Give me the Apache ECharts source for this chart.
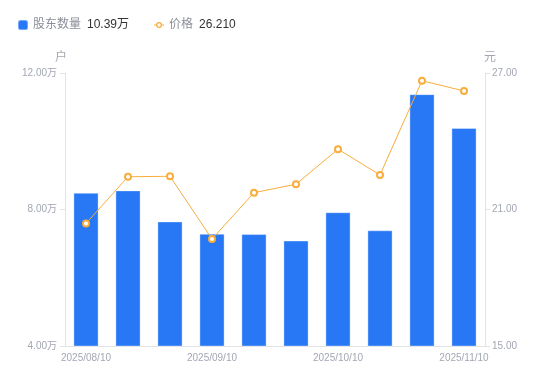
<!DOCTYPE html>
<html>
<head>
<meta charset="utf-8">
<script src="https://cdn.jsdelivr.net/npm/echarts@6/dist/echarts.min.js"></script>
<style>
  html, body { margin: 0; padding: 0; background: #fff; }
  #chart { width: 550px; height: 381px; }
</style>
</head>
<body>
<div id="chart"></div>
<script>
const dates = ['2025/08/10', '2025/08/20', '2025/08/31', '2025/09/10', '2025/09/20',
  '2025/09/30', '2025/10/10', '2025/10/20', '2025/10/31', '2025/11/10'];
// 股东数量, unit 万户
const holders = [8.49, 8.56, 7.65, 7.29, 7.28, 7.09, 7.92, 7.39, 11.38, 10.39];
// 价格, unit 元
const prices = [20.39, 22.44, 22.46, 19.70, 21.74, 22.11, 23.65, 22.52, 26.66, 26.21];
const holderTicks = [4, 12, 4];   // min, max, interval
const priceTicks = [15, 27, 6];

const font = 'Arial, "Liberation Sans", "Noto Sans CJK SC", sans-serif';
const grey = '#a3a7b3';
const blue = '#2878f5';
const orange = '#f8ad3c';
// small line with a ring in the middle, like the line legend icon
const lineIcon = 'path://M0,4.5H2.2V5.5H0Z M7.8,4.5H10V5.5H7.8Z M5,2A3,3 0 1,1 5,8A3,3 0 1,1 5,2Z M5,3.3A1.7,1.7 0 1,0 5,6.7A1.7,1.7 0 1,0 5,3.3Z';

const chart = echarts.init(document.getElementById('chart'));
const lastLabel = {
  '股东数量': holders[holders.length - 1].toFixed(2) + '万',
  '价格': prices[prices.length - 1].toFixed(3),
};

chart.setOption({
  animation: false,
  textStyle: { fontFamily: font },
  grid: { left: 65, right: 65, top: 73, bottom: 35 },
  legend: {
    left: 12,
    top: 14,
    itemWidth: 10,
    itemHeight: 10,
    itemGap: 25,
    formatter: (name) => `{n|${name}}{v|${lastLabel[name]}}`,
    textStyle: {
      rich: {
        n: { color: '#8a8e99', fontSize: 12, fontFamily: font },
        v: { color: '#333', fontSize: 12, fontFamily: font, padding: [0, 0, 0, 6] },
      },
    },
    data: [
      { name: '股东数量', icon: 'roundRect', itemStyle: { color: blue } },
      { name: '价格', icon: lineIcon, itemStyle: { color: orange } },
    ],
  },
  xAxis: {
    type: 'category',
    data: dates,
    axisLine: { lineStyle: { color: '#e3e3e6' } },
    axisTick: { show: false },
    axisLabel: { color: grey, fontSize: 10, interval: 2, margin: 7 },
  },
  yAxis: [
    {
      type: 'value',
      name: '户',
      nameTextStyle: { color: grey, fontSize: 12, padding: [0, 8, 0, 0] },
      nameGap: 9,
      min: holderTicks[0],
      max: holderTicks[1],
      interval: holderTicks[2],
      splitLine: { show: false },
      axisLine: { show: true, lineStyle: { color: '#e3e3e6' } },
      axisTick: { show: true, length: 5, lineStyle: { color: '#e3e3e6' } },
      axisLabel: { color: grey, fontSize: 10, margin: 8, formatter: (v) => v.toFixed(2) + '万' },
    },
    {
      type: 'value',
      name: '元',
      nameTextStyle: { color: grey, fontSize: 12, padding: [0, 0, 0, 10] },
      nameGap: 9,
      min: priceTicks[0],
      max: priceTicks[1],
      interval: priceTicks[2],
      splitLine: { show: false },
      axisLine: { show: true, lineStyle: { color: '#e3e3e6' } },
      axisTick: { show: true, length: 5, lineStyle: { color: '#e3e3e6' } },
      axisLabel: { color: grey, fontSize: 10, margin: 7, formatter: (v) => v.toFixed(2) },
    },
  ],
  series: [
    {
      name: '股东数量',
      type: 'bar',
      data: holders,
      barWidth: '60%',
      itemStyle: { color: blue, borderColor: 'rgba(255,255,255,0.35)', borderWidth: 1 },
    },
    {
      name: '价格',
      type: 'line',
      yAxisIndex: 1,
      data: prices,
      symbol: 'emptyCircle',
      symbolSize: 6,
      lineStyle: { color: orange, width: 1 },
      itemStyle: { color: orange, borderWidth: 2 },
    },
  ],
});
</script>
</body>
</html>
